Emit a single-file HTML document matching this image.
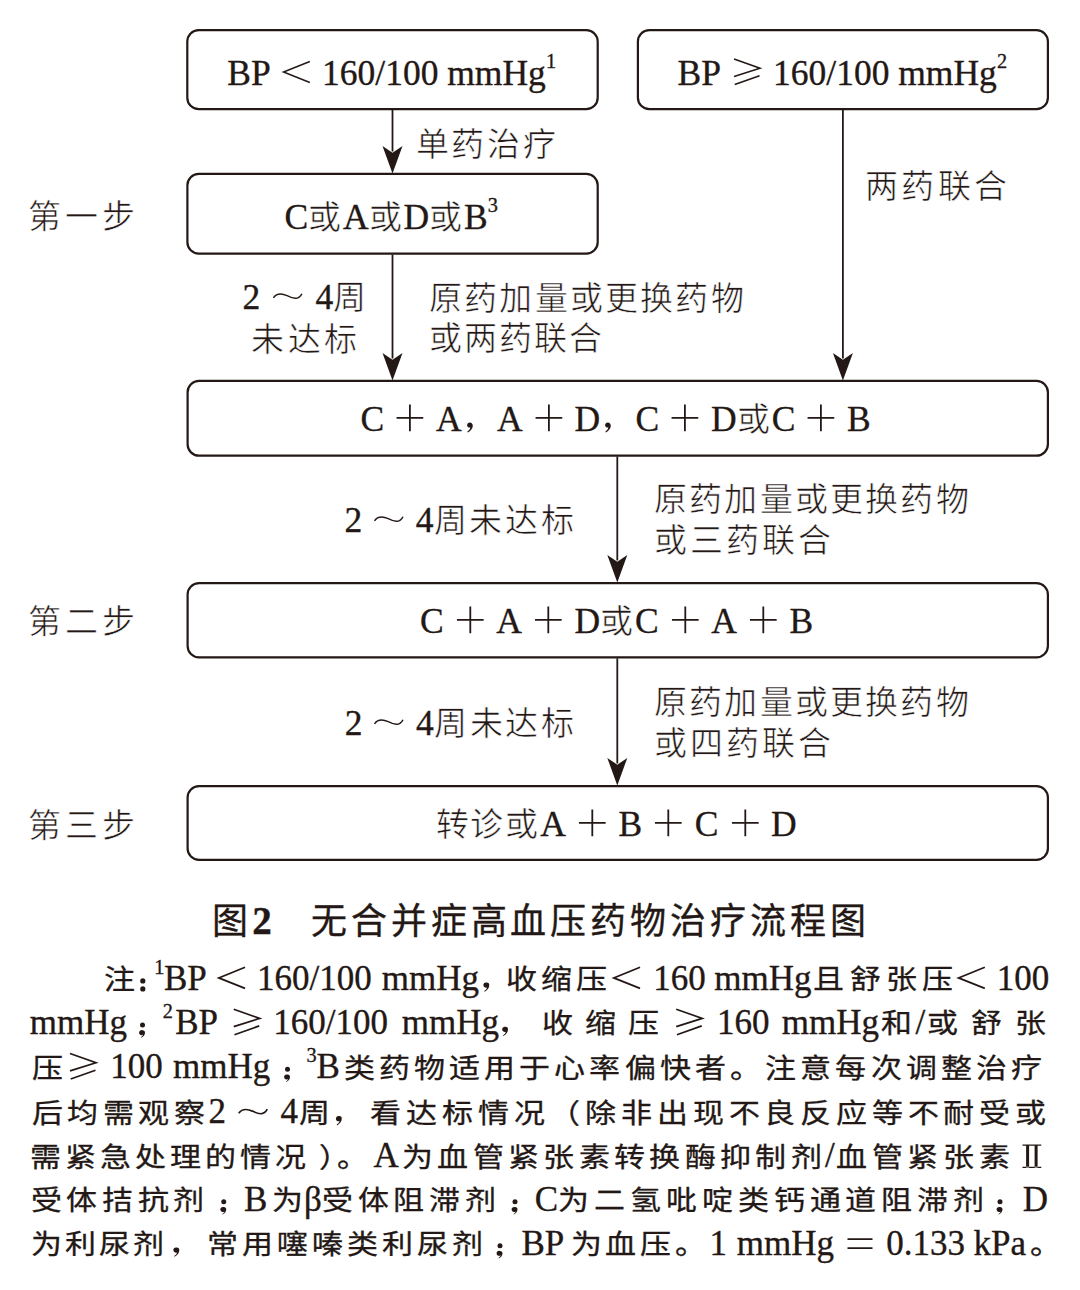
<!DOCTYPE html>
<html lang="zh-CN">
<head>
<meta charset="utf-8">
<style>
html,body{margin:0;padding:0;background:#fff;}
body{width:1080px;height:1290px;position:relative;overflow:hidden;color:#231815;font-family:"Liberation Serif",serif;}
.t{position:absolute;white-space:pre;line-height:60px;height:60px;}
.t *{line-height:0;}
.c{font-weight:var(--cw,300);}
.t,.r{-webkit-text-stroke:0.35px #231815;}
.t .c{-webkit-text-stroke:var(--ts,0.6px) #fff;}
svg.g{overflow:visible;display:inline-block;}
#ov{position:absolute;left:0;top:0;}
.nl{position:absolute;left:30px;width:1018px;white-space:nowrap;text-align:justify;text-align-last:justify;line-height:60px;height:60px;}
.nl *{line-height:0;}
.r{position:absolute;white-space:pre;line-height:0;height:0;}
</style>
</head>
<body>

<svg id="ov" width="1080" height="1290" viewBox="0 0 1080 1290">
<g fill="none" stroke="#231815" stroke-width="2.2">
<rect x="187.30" y="30.10" width="410.40" height="79.00" rx="11.40"/>
<rect x="637.90" y="30.10" width="410.00" height="79.00" rx="11.40"/>
<rect x="187.40" y="173.90" width="410.30" height="79.70" rx="11.40"/>
<rect x="187.60" y="380.90" width="860.30" height="74.80" rx="11.40"/>
<rect x="187.60" y="583.10" width="860.30" height="74.30" rx="11.40"/>
<rect x="187.60" y="786.10" width="860.30" height="73.80" rx="11.40"/>
</g>
<g stroke="#231815" stroke-width="1.8">
<line x1="392.5" y1="110" x2="392.5" y2="151.5"/>
<line x1="392.5" y1="254.5" x2="392.5" y2="358.5"/>
<line x1="842.9" y1="110" x2="842.9" y2="358.5"/>
<line x1="617.3" y1="456.5" x2="617.3" y2="560.5"/>
<line x1="617.3" y1="658.3" x2="617.3" y2="763.5"/>
</g>
<g fill="#231815">
<path d="M382.50,145.90L392.50,152.65L402.50,145.90L392.50,173.50Z"/>
<path d="M382.50,352.90L392.50,359.65L402.50,352.90L392.50,380.50Z"/>
<path d="M832.90,352.90L842.90,359.65L852.90,352.90L842.90,380.50Z"/>
<path d="M607.30,554.90L617.30,561.65L627.30,554.90L617.30,582.50Z"/>
<path d="M607.30,757.90L617.30,764.65L627.30,757.90L617.30,785.50Z"/>
</g></svg>
<div class="t" id="b1" style="left:227.3px;top:42.82px;font-size:35.5px;">BP<svg class="g" width="51.30" height="42.60" style="vertical-align:-8.88px"><path d="M38.80,10.43L12.50,21.03L38.80,31.53" stroke="#231815" stroke-width="1.5" fill="none"/></svg>160/100 mmHg<span class="sup" style="font-size:20.3px;vertical-align:17px">1</span></div>
<div class="t" id="b2" style="left:677.5px;top:42.62px;font-size:35.5px;">BP<svg class="g" width="52.10" height="42.60" style="vertical-align:-8.88px"><path d="M13.05,8.03L39.05,17.23L13.05,25.43M38.55,24.73L13.75,33.52" stroke="#231815" stroke-width="1.5" fill="none"/></svg>160/100 mmHg<span class="sup" style="font-size:20.3px;vertical-align:17px">2</span></div>
<div class="t" id="l1" style="left:415.5px;top:113.52px;font-size:35.5px;"><span class="c" style="font-size:33px;letter-spacing:2.7px">单药治疗</span></div>
<div class="t" id="s1" style="left:28.4px;top:185.52px;font-size:35.5px;"><span class="c" style="font-size:33px;letter-spacing:3.8px">第一步</span></div>
<div class="t" id="b3" style="left:284.4px;top:186.77px;font-size:35.5px;">C<span class="c" style="font-size:33px;letter-spacing:1.9px">或</span>A<span class="c" style="font-size:33px;letter-spacing:1.9px">或</span>D<span class="c" style="font-size:33px;letter-spacing:1.9px">或</span>B<span class="sup" style="font-size:20.3px;vertical-align:17px">3</span></div>
<div class="t" id="l2a" style="left:242.4px;top:266.72px;font-size:35.5px;">2<svg class="g" width="55.30" height="42.60" style="vertical-align:-8.88px"><path d="M13.40,22.83C15.90,19.23 20.40,17.73 27.10,20.62C32.40,23.23 38.40,25.73 41.90,18.73" stroke="#231815" stroke-width="1.5" fill="none"/></svg>4<span class="c" style="font-size:33px;letter-spacing:1.9px">周</span></div>
<div class="t" id="l2b" style="left:251.3px;top:308.52px;font-size:35.5px;"><span class="c" style="font-size:33px;letter-spacing:3.4px">未达标</span></div>
<div class="t" id="r1a" style="left:429px;top:267.52px;font-size:35.5px;"><span class="c" style="font-size:33px;letter-spacing:2.2px">原药加量或更换药物</span></div>
<div class="t" id="r1b" style="left:428.5px;top:308.02px;font-size:35.5px;"><span class="c" style="font-size:33px;letter-spacing:2.2px">或两药联合</span></div>
<div class="t" id="l3" style="left:865.2px;top:156.32px;font-size:35.5px;"><span class="c" style="font-size:33px;letter-spacing:3.2px">两药联合</span></div>
<div class="t" id="b4" style="left:360.4px;top:388.82px;font-size:35.5px;">C<svg class="g" width="51.80" height="42.60" style="vertical-align:-8.88px"><path d="M12.55,20.95H39.25M25.90,7.60V34.29" stroke="#231815" stroke-width="1.8" fill="none"/></svg>A<svg class="g" width="35.50" height="42.60" style="vertical-align:-8.88px"><path d="M7.80,25.43c1.8,0 3,1.3 3,3.2c0,2.6 -2.2,5.2 -5,6.8l-0.5,-0.8c1.9,-1.3 3,-2.8 3,-4.1c-1.6,0.2 -3.2,-0.8 -3.2,-2.4c0,-1.5 1.2,-2.7 2.7,-2.7z" fill="#231815"/></svg>A<svg class="g" width="51.80" height="42.60" style="vertical-align:-8.88px"><path d="M12.55,20.95H39.25M25.90,7.60V34.29" stroke="#231815" stroke-width="1.8" fill="none"/></svg>D<svg class="g" width="35.50" height="42.60" style="vertical-align:-8.88px"><path d="M7.80,25.43c1.8,0 3,1.3 3,3.2c0,2.6 -2.2,5.2 -5,6.8l-0.5,-0.8c1.9,-1.3 3,-2.8 3,-4.1c-1.6,0.2 -3.2,-0.8 -3.2,-2.4c0,-1.5 1.2,-2.7 2.7,-2.7z" fill="#231815"/></svg>C<svg class="g" width="51.80" height="42.60" style="vertical-align:-8.88px"><path d="M12.55,20.95H39.25M25.90,7.60V34.29" stroke="#231815" stroke-width="1.8" fill="none"/></svg>D<span class="c" style="font-size:33px;letter-spacing:1.9px">或</span>C<svg class="g" width="51.80" height="42.60" style="vertical-align:-8.88px"><path d="M12.55,20.95H39.25M25.90,7.60V34.29" stroke="#231815" stroke-width="1.8" fill="none"/></svg>B</div>
<div class="t" id="l4" style="left:344.6px;top:490.02px;font-size:35.5px;">2<svg class="g" width="53.50" height="42.60" style="vertical-align:-8.88px"><path d="M12.50,22.83C15.00,19.23 19.50,17.73 26.20,20.62C31.50,23.23 37.50,25.73 41.00,18.73" stroke="#231815" stroke-width="1.5" fill="none"/></svg>4<span class="c" style="font-size:33px;letter-spacing:2.9px">周未达标</span></div>
<div class="t" id="r2a" style="left:654.1px;top:469.02px;font-size:35.5px;"><span class="c" style="font-size:33px;letter-spacing:2.2px">原药加量或更换药物</span></div>
<div class="t" id="r2b" style="left:653.6px;top:509.52px;font-size:35.5px;"><span class="c" style="font-size:33px;letter-spacing:3.0px">或三药联合</span></div>
<div class="t" id="s2" style="left:28.4px;top:591.32px;font-size:35.5px;"><span class="c" style="font-size:33px;letter-spacing:3.8px">第二步</span></div>
<div class="t" id="b5" style="left:420.0px;top:590.82px;font-size:35.5px;">C<svg class="g" width="52.60" height="42.60" style="vertical-align:-8.88px"><path d="M12.95,20.95H39.65M26.30,7.60V34.29" stroke="#231815" stroke-width="1.8" fill="none"/></svg>A<svg class="g" width="52.60" height="42.60" style="vertical-align:-8.88px"><path d="M12.95,20.95H39.65M26.30,7.60V34.29" stroke="#231815" stroke-width="1.8" fill="none"/></svg>D<span class="c" style="font-size:33px;letter-spacing:1.9px">或</span>C<svg class="g" width="52.60" height="42.60" style="vertical-align:-8.88px"><path d="M12.95,20.95H39.65M26.30,7.60V34.29" stroke="#231815" stroke-width="1.8" fill="none"/></svg>A<svg class="g" width="52.60" height="42.60" style="vertical-align:-8.88px"><path d="M12.95,20.95H39.65M26.30,7.60V34.29" stroke="#231815" stroke-width="1.8" fill="none"/></svg>B</div>
<div class="t" id="l5" style="left:344.7px;top:693.02px;font-size:35.5px;">2<svg class="g" width="53.50" height="42.60" style="vertical-align:-8.88px"><path d="M12.50,22.83C15.00,19.23 19.50,17.73 26.20,20.62C31.50,23.23 37.50,25.73 41.00,18.73" stroke="#231815" stroke-width="1.5" fill="none"/></svg>4<span class="c" style="font-size:33px;letter-spacing:2.9px">周未达标</span></div>
<div class="t" id="r3a" style="left:654.1px;top:672.02px;font-size:35.5px;"><span class="c" style="font-size:33px;letter-spacing:2.2px">原药加量或更换药物</span></div>
<div class="t" id="r3b" style="left:653.6px;top:712.52px;font-size:35.5px;"><span class="c" style="font-size:33px;letter-spacing:3.0px">或四药联合</span></div>
<div class="t" id="s3" style="left:28.4px;top:794.52px;font-size:35.5px;"><span class="c" style="font-size:33px;letter-spacing:3.8px">第三步</span></div>
<div class="t" id="b6" style="left:435.6px;top:793.82px;font-size:35.5px;"><span class="c" style="font-size:33px;letter-spacing:1.9px">转诊或</span>A<svg class="g" width="52.60" height="42.60" style="vertical-align:-8.88px"><path d="M12.95,20.95H39.65M26.30,7.60V34.29" stroke="#231815" stroke-width="1.8" fill="none"/></svg>B<svg class="g" width="52.60" height="42.60" style="vertical-align:-8.88px"><path d="M12.95,20.95H39.65M26.30,7.60V34.29" stroke="#231815" stroke-width="1.8" fill="none"/></svg>C<svg class="g" width="52.60" height="42.60" style="vertical-align:-8.88px"><path d="M12.95,20.95H39.65M26.30,7.60V34.29" stroke="#231815" stroke-width="1.8" fill="none"/></svg>D</div>
<div class="t" id="title" style="left:212.3px;top:890.84px;font-size:39px;"><span class="c" style="font-size:36px;letter-spacing:3.95px;font-family:'Liberation Sans',sans-serif;--cw:400;-webkit-text-stroke:0.35px #231815">图</span><b style="font-family:'Liberation Serif',serif">2</b><span style="display:inline-block;width:39px"></span><span class="c" style="font-size:36px;letter-spacing:3.95px;font-family:'Liberation Sans',sans-serif;--cw:400;-webkit-text-stroke:0.35px #231815">无合并症高血压药物治疗流程图</span></div>
<div class="r c" style="left:103.50px;top:980.14px;font-size:31.0px;letter-spacing:4.00px;--cw:400;transform:scaleY(0.88);transform-origin:0 -1.84px">注</div>
<div class="r" style="left:154.32px;top:966.75px;font-size:20.3px">1</div>
<div class="r" style="left:163.99px;top:978.79px;font-size:35px">BP</div>
<div class="r" style="left:256.92px;top:978.79px;font-size:35px">160/100</div>
<div class="r" style="left:381.77px;top:978.79px;font-size:35px">mmHg</div>
<div class="r c" style="left:505.61px;top:980.14px;font-size:31.0px;letter-spacing:4.00px;--cw:400;transform:scaleY(0.88);transform-origin:0 -1.84px">收缩压</div>
<div class="r" style="left:653.17px;top:978.79px;font-size:35px">160</div>
<div class="r" style="left:714.27px;top:978.79px;font-size:35px">mmHg</div>
<div class="r c" style="left:813.33px;top:980.14px;font-size:31.0px;letter-spacing:5.25px;--cw:400;transform:scaleY(0.88);transform-origin:0 -1.84px">且舒张压</div>
<div class="r" style="left:996.72px;top:978.79px;font-size:35px">100</div>
<div class="r" style="left:29.77px;top:1023.09px;font-size:35px">mmHg</div>
<div class="r" style="left:162.86px;top:1011.05px;font-size:20.3px">2</div>
<div class="r" style="left:175.24px;top:1023.09px;font-size:35px">BP</div>
<div class="r" style="left:273.17px;top:1023.09px;font-size:35px">160/100</div>
<div class="r" style="left:401.77px;top:1023.09px;font-size:35px">mmHg</div>
<div class="r c" style="left:541.86px;top:1024.44px;font-size:31.0px;letter-spacing:12.10px;--cw:400;transform:scaleY(0.88);transform-origin:0 -1.84px">收缩压</div>
<div class="r" style="left:716.92px;top:1023.09px;font-size:35px">160</div>
<div class="r" style="left:781.77px;top:1023.09px;font-size:35px">mmHg</div>
<div class="r c" style="left:881.39px;top:1024.44px;font-size:31.0px;letter-spacing:4.00px;--cw:400;transform:scaleY(0.88);transform-origin:0 -1.84px">和</div>
<div class="r" style="left:915.50px;top:1023.09px;font-size:35px">/</div>
<div class="r c" style="left:927.48px;top:1024.44px;font-size:31.0px;letter-spacing:13.00px;--cw:400;transform:scaleY(0.88);transform-origin:0 -1.84px">或舒张</div>
<div class="r c" style="left:31.51px;top:1068.74px;font-size:31.0px;letter-spacing:4.00px;--cw:400;transform:scaleY(0.88);transform-origin:0 -1.84px">压</div>
<div class="r" style="left:110.22px;top:1067.39px;font-size:35px">100</div>
<div class="r" style="left:173.02px;top:1067.39px;font-size:35px">mmHg</div>
<div class="r" style="left:306.53px;top:1055.35px;font-size:20.3px">3</div>
<div class="r" style="left:316.49px;top:1067.39px;font-size:35px">B</div>
<div class="r c" style="left:343.57px;top:1068.74px;font-size:31.0px;letter-spacing:4.13px;--cw:400;transform:scaleY(0.88);transform-origin:0 -1.84px">类药物适用于心率偏快者。注意每次调整治疗</div>
<div class="r c" style="left:31.51px;top:1113.74px;font-size:31.0px;letter-spacing:4.60px;--cw:400;transform:scaleY(0.88);transform-origin:0 -1.84px">后均需观察</div>
<div class="r" style="left:208.46px;top:1112.39px;font-size:35px">2</div>
<div class="r" style="left:280.57px;top:1112.39px;font-size:35px">4</div>
<div class="r c" style="left:298.98px;top:1113.74px;font-size:31.0px;letter-spacing:4.00px;--cw:400;transform:scaleY(0.88);transform-origin:0 -1.84px">周</div>
<div class="r c" style="left:370.23px;top:1113.74px;font-size:31.0px;letter-spacing:4.83px;--cw:400;transform:scaleY(0.88);transform-origin:0 -1.84px">看达标情况（除非出现不良反应等不耐受或</div>
<div class="r c" style="left:30.48px;top:1157.54px;font-size:31.0px;letter-spacing:4.00px;--cw:400;transform:scaleY(0.88);transform-origin:0 -1.84px">需紧急处理的情况</div>
<div class="r c" style="left:318.57px;top:1157.54px;font-size:31.0px;letter-spacing:4.00px;--cw:400;transform:scaleY(0.88);transform-origin:0 -1.84px">）</div>
<div class="r c" style="left:337.45px;top:1157.54px;font-size:31.0px;letter-spacing:4.00px;--cw:400;transform:scaleY(0.88);transform-origin:0 -1.84px">。</div>
<div class="r" style="left:373.41px;top:1156.19px;font-size:35px">A</div>
<div class="r c" style="left:402.05px;top:1157.54px;font-size:31.0px;letter-spacing:4.34px;--cw:400;transform:scaleY(0.88);transform-origin:0 -1.84px">为血管紧张素转换酶抑制剂</div>
<div class="r" style="left:825.00px;top:1156.19px;font-size:35px">/</div>
<div class="r c" style="left:836.23px;top:1157.54px;font-size:31.0px;letter-spacing:4.60px;--cw:400;transform:scaleY(0.88);transform-origin:0 -1.84px">血管紧张素</div>
<div class="r c" style="left:30.89px;top:1201.24px;font-size:31.0px;letter-spacing:4.60px;--cw:400;transform:scaleY(0.88);transform-origin:0 -1.84px">受体拮抗剂</div>
<div class="r" style="left:243.99px;top:1199.89px;font-size:35px">B</div>
<div class="r c" style="left:272.05px;top:1201.24px;font-size:31.0px;letter-spacing:4.00px;--cw:400;transform:scaleY(0.88);transform-origin:0 -1.84px">为</div>
<div class="r" style="left:303.99px;top:1199.89px;font-size:35px">β</div>
<div class="r c" style="left:322.14px;top:1201.24px;font-size:31.0px;letter-spacing:4.60px;--cw:400;transform:scaleY(0.88);transform-origin:0 -1.84px">受体阻滞剂</div>
<div class="r" style="left:534.81px;top:1199.89px;font-size:35px">C</div>
<div class="r c" style="left:558.29px;top:1201.24px;font-size:31.0px;letter-spacing:4.90px;--cw:400;transform:scaleY(0.88);transform-origin:0 -1.84px">为二氢吡啶类钙通道阻滞剂</div>
<div class="r" style="left:1022.74px;top:1199.89px;font-size:35px">D</div>
<div class="r c" style="left:30.80px;top:1245.14px;font-size:31.0px;letter-spacing:3.20px;--cw:400;transform:scaleY(0.88);transform-origin:0 -1.84px">为利尿剂</div>
<div class="r c" style="left:207.33px;top:1245.14px;font-size:31.0px;letter-spacing:4.00px;--cw:400;transform:scaleY(0.88);transform-origin:0 -1.84px">常用噻嗪类利尿剂</div>
<div class="r" style="left:521.49px;top:1243.79px;font-size:35px">BP</div>
<div class="r c" style="left:570.79px;top:1245.14px;font-size:31.0px;letter-spacing:3.60px;--cw:400;transform:scaleY(0.88);transform-origin:0 -1.84px">为血压。</div>
<div class="r" style="left:709.42px;top:1243.79px;font-size:35px">1</div>
<div class="r" style="left:736.77px;top:1243.79px;font-size:35px">mmHg</div>
<div class="r" style="left:886.17px;top:1243.79px;font-size:35px">0.133</div>
<div class="r" style="left:973.53px;top:1243.79px;font-size:35px">kPa</div>
<div class="r c" style="left:1029.50px;top:1245.14px;font-size:31.0px;letter-spacing:4.00px;--cw:400;transform:scaleY(0.88);transform-origin:0 -1.84px">。</div>
<svg id="nsym" width="1080" height="1290" style="position:absolute;left:0;top:0"><circle cx="142.80" cy="980.90" r="2.6" fill="#231815"/><circle cx="142.80" cy="988.90" r="2.6" fill="#231815"/><path d="M245.05,967.30L218.75,977.90L245.05,988.40" stroke="#231815" stroke-width="1.7" fill="none"/><path d="M486.55,982.50a2.6,2.6 0 0 1 2.7,2.7c0,2.6 -2,5 -4.6,6.6l-0.5,-0.7c1.6,-1.1 2.7,-2.5 2.9,-3.7a2.6,2.6 0 1 1 -0.5,-4.9z" fill="#231815"/><path d="M640.05,967.30L613.75,977.90L640.05,988.40" stroke="#231815" stroke-width="1.7" fill="none"/><path d="M984.80,967.30L958.50,977.90L984.80,988.40" stroke="#231815" stroke-width="1.7" fill="none"/><circle cx="142.50" cy="1025.00" r="2.5" fill="#231815"/><path d="M142.50,1030.30a2.5,2.5 0 0 1 2.5,2.5c0,2.2 -1.6,4 -3.6,5l-0.4,-0.6c1.2,-0.8 2,-1.8 2.1,-2.6a2.5,2.5 0 1 1 -0.6,-4.3z" fill="#231815"/><path d="M233.75,1009.20L259.75,1018.40L233.75,1026.60M259.25,1025.90L234.45,1034.70" stroke="#231815" stroke-width="1.7" fill="none"/><path d="M505.30,1026.80a2.6,2.6 0 0 1 2.7,2.7c0,2.6 -2,5 -4.6,6.6l-0.5,-0.7c1.6,-1.1 2.7,-2.5 2.9,-3.7a2.6,2.6 0 1 1 -0.5,-4.9z" fill="#231815"/><path d="M676.25,1009.20L702.25,1018.40L676.25,1026.60M701.75,1025.90L676.95,1034.70" stroke="#231815" stroke-width="1.7" fill="none"/><path d="M70.00,1053.50L96.00,1062.70L70.00,1070.90M95.50,1070.20L70.70,1079.00" stroke="#231815" stroke-width="1.7" fill="none"/><circle cx="287.50" cy="1069.30" r="2.5" fill="#231815"/><path d="M287.50,1074.60a2.5,2.5 0 0 1 2.5,2.5c0,2.2 -1.6,4 -3.6,5l-0.4,-0.6c1.2,-0.8 2,-1.8 2.1,-2.6a2.5,2.5 0 1 1 -0.6,-4.3z" fill="#231815"/><path d="M238.75,1113.30C241.25,1109.70 245.75,1108.20 252.45,1111.10C257.75,1113.70 263.75,1116.20 267.25,1109.20" stroke="#231815" stroke-width="1.7" fill="none"/><path d="M339.05,1116.10a2.6,2.6 0 0 1 2.7,2.7c0,2.6 -2,5 -4.6,6.6l-0.5,-0.7c1.6,-1.1 2.7,-2.5 2.9,-3.7a2.6,2.6 0 1 1 -0.5,-4.9z" fill="#231815"/><path d="M1022.50,1144.60H1041.25V1145.80H1022.50Z M1022.50,1168.00H1041.25V1166.80H1022.50Z M1026.10,1145.00h3v22.6h-3Z M1034.60,1145.00h3v22.6h-3Z" fill="#231815"/><circle cx="223.75" cy="1201.80" r="2.5" fill="#231815"/><path d="M223.75,1207.10a2.5,2.5 0 0 1 2.5,2.5c0,2.2 -1.6,4 -3.6,5l-0.4,-0.6c1.2,-0.8 2,-1.8 2.1,-2.6a2.5,2.5 0 1 1 -0.6,-4.3z" fill="#231815"/><circle cx="515.00" cy="1201.80" r="2.5" fill="#231815"/><path d="M515.00,1207.10a2.5,2.5 0 0 1 2.5,2.5c0,2.2 -1.6,4 -3.6,5l-0.4,-0.6c1.2,-0.8 2,-1.8 2.1,-2.6a2.5,2.5 0 1 1 -0.6,-4.3z" fill="#231815"/><circle cx="1000.00" cy="1201.80" r="2.5" fill="#231815"/><path d="M1000.00,1207.10a2.5,2.5 0 0 1 2.5,2.5c0,2.2 -1.6,4 -3.6,5l-0.4,-0.6c1.2,-0.8 2,-1.8 2.1,-2.6a2.5,2.5 0 1 1 -0.6,-4.3z" fill="#231815"/><path d="M176.55,1247.50a2.6,2.6 0 0 1 2.7,2.7c0,2.6 -2,5 -4.6,6.6l-0.5,-0.7c1.6,-1.1 2.7,-2.5 2.9,-3.7a2.6,2.6 0 1 1 -0.5,-4.9z" fill="#231815"/><circle cx="500.00" cy="1245.70" r="2.5" fill="#231815"/><path d="M500.00,1251.00a2.5,2.5 0 0 1 2.5,2.5c0,2.2 -1.6,4 -3.6,5l-0.4,-0.6c1.2,-0.8 2,-1.8 2.1,-2.6a2.5,2.5 0 1 1 -0.6,-4.3z" fill="#231815"/><path d="M847.50,1239.10H872.50M847.50,1248.10H872.50" stroke="#231815" stroke-width="1.7" fill="none"/></svg>
</body>
</html>
